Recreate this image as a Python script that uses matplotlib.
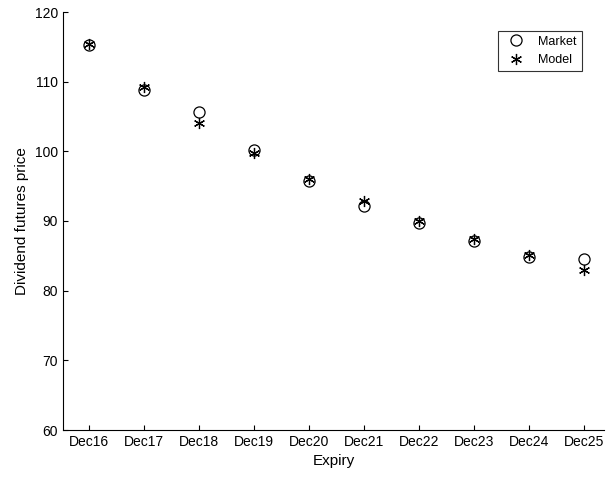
import matplotlib
matplotlib.use("Agg")
import matplotlib.pyplot as plt

expiries = ["Dec16","Dec17","Dec18","Dec19","Dec20","Dec21","Dec22","Dec23","Dec24","Dec25"]
market = [115.3, 108.8, 105.6, 100.2, 95.8, 92.1, 89.7, 87.2, 84.9, 84.6]
model = [115.4, 109.2, 104.0, 99.7, 96.1, 92.9, 90.0, 87.4, 85.1, 83.0]

plt.rcParams['font.family'] = ['Liberation Sans', 'DejaVu Sans']
fig = plt.figure(figsize=(6.15, 4.86), dpi=100)
ax = fig.add_axes([63/615, 1-430/486, 541/615, 418/486])
x = list(range(1, len(expiries)+1))
ax.plot(x, market, 'o', mfc='none', mec='black', ms=8, mew=0.9, label='Market', linestyle='none')
ax.plot(x, model, marker=(6, 2, 0), color='black', ms=8, mew=0.9, label='Model', linestyle='none')
ax.set_xlim(0.53, 10.37)
ax.set_ylim(60, 120)
ax.set_xticks(x)
ax.set_xticklabels(expiries)
ax.set_yticks(range(60, 121, 10))
ax.tick_params(direction='in', labelsize=10, top=False, right=False)
for s in ['top', 'right']:
    ax.spines[s].set_visible(False)
ax.set_xlabel('Expiry', fontsize=11)
ax.set_ylabel('Dividend futures price', fontsize=11)
leg = ax.legend(loc='upper right', bbox_to_anchor=(0.97, 0.97), fancybox=False, edgecolor='black', fontsize=9)
leg.get_frame().set_linewidth(0.8)
fig.savefig('out.png', dpi=100)
